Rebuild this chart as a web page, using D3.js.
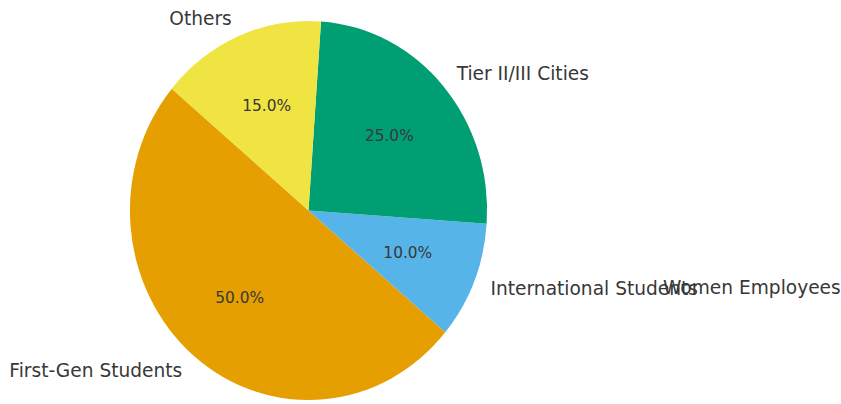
<!DOCTYPE html>
<html>
<head>
<meta charset="utf-8">
<script src="https://cdn.jsdelivr.net/npm/d3@7"></script>
<style>
  html, body { margin: 0; padding: 0; background: #ffffff; }
  svg { display: block; }
  text { font-family: "DejaVu Sans", sans-serif; fill: #383838; }
</style>
</head>
<body>
<svg id="chart" width="841" height="404"></svg>
<script>
// Shares of the cohort, in drawing order (counter-clockwise from the start angle)
const categories = ["First-Gen Students", "International Students", "Tier II/III Cities", "Others"];
const shares = [50, 10, 25, 15];
const colors = ["#E69F00", "#56B4E9", "#009E73", "#F0E442"];
// Group listed beside the pie with no slice of its own
const extraLabels = ["Women Employees"];

const W = 841, H = 404;
const cx = 308.5, cy = 210.5, rx = 178.5, ry = 189.5;

const svg = d3.select("#chart");

// Unit-circle coordinates mapped onto the (slightly elliptical) pie box
const x = d3.scaleLinear().domain([-1, 1]).range([cx - rx, cx + rx]);
const y = d3.scaleLinear().domain([-1, 1]).range([cy + ry, cy - ry]);

const deg = Math.PI / 180;
const start = -50 * deg; // 140° counter-clockwise from 3 o'clock
const pie = d3.pie().sort(null).value(d => d.value)
  .startAngle(start).endAngle(start - 2 * Math.PI);

const data = categories.map((c, i) => ({ name: c, value: shares[i], color: colors[i] }));
const arcs = pie(data);
const total = d3.sum(shares);

const arc = d3.arc().innerRadius(0).outerRadius(1);

svg.append("g")
  .attr("transform", `translate(${cx},${cy}) scale(${rx},${ry})`)
  .selectAll("path")
  .data(arcs)
  .join("path")
  .attr("d", arc)
  .attr("fill", d => d.data.color);

const mid = d => (d.startAngle + d.endAngle) / 2;

// Category labels outside the rim
svg.append("g").selectAll("text")
  .data(arcs)
  .join("text")
  .attr("x", d => x(1.1 * Math.sin(mid(d))))
  .attr("y", d => y(1.1 * Math.cos(mid(d))))
  .attr("text-anchor", d => Math.sin(mid(d)) > 0 ? "start" : "end")
  .attr("dominant-baseline", "central")
  .attr("font-size", 18.6)
  .text(d => d.data.name);

// Percentage labels inside the slices
svg.append("g").selectAll("text")
  .data(arcs)
  .join("text")
  .attr("x", d => x(0.6 * Math.sin(mid(d))))
  .attr("y", d => y(0.6 * Math.cos(mid(d))))
  .attr("text-anchor", "middle")
  .attr("dominant-baseline", "central")
  .attr("font-size", 15.4)
  .text(d => (d.value / total * 100).toFixed(1) + "%");

// Extra group label, set further out to the right
const extraAngle = 101.5 * deg, extraDist = 2.027;
svg.append("g").selectAll("text")
  .data(extraLabels)
  .join("text")
  .attr("x", x(extraDist * Math.sin(extraAngle)))
  .attr("y", y(extraDist * Math.cos(extraAngle)))
  .attr("text-anchor", "start")
  .attr("dominant-baseline", "central")
  .attr("font-size", 18.6)
  .text(d => d);
</script>
</body>
</html>
